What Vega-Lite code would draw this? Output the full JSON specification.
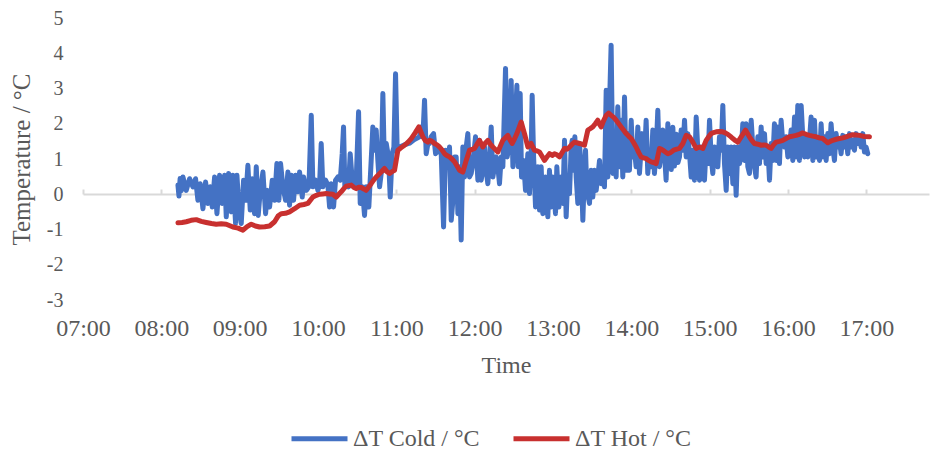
{
  "$schema": "https://vega.github.io/schema/vega-lite/v6.json",
  "width": 846,
  "height": 282,
  "autosize": {"type": "none"},
  "padding": {"left": 83, "top": 18, "right": 4, "bottom": 150},
  "background": "white",
  "config": {"view": {"stroke": null}, "font": "Liberation Serif", "axisY": {"labelOverlap": false}, "axis": {"labelOverlap": false}},
  "datasets": {
    "cold": [
      {"hour": 8.212, "dt": 0.26}, {"hour": 8.225, "dt": -0.05}, {"hour": 8.24, "dt": 0.45}, {"hour": 8.255, "dt": 0.1},
      {"hour": 8.276, "dt": 0.49}, {"hour": 8.318, "dt": 0.11}, {"hour": 8.361, "dt": 0.44}, {"hour": 8.403, "dt": 0.21},
      {"hour": 8.437, "dt": 0.44}, {"hour": 8.467, "dt": -0.17}, {"hour": 8.497, "dt": 0.3}, {"hour": 8.531, "dt": -0.41},
      {"hour": 8.565, "dt": 0.35}, {"hour": 8.595, "dt": -0.26}, {"hour": 8.625, "dt": 0.21}, {"hour": 8.65, "dt": -0.36},
      {"hour": 8.68, "dt": 0.49}, {"hour": 8.71, "dt": -0.55}, {"hour": 8.744, "dt": 0.54}, {"hour": 8.778, "dt": -0.26},
      {"hour": 8.808, "dt": 0.54}, {"hour": 8.829, "dt": -0.64}, {"hour": 8.859, "dt": 0.59}, {"hour": 8.893, "dt": -0.5},
      {"hour": 8.914, "dt": 0.54}, {"hour": 8.948, "dt": -0.83}, {"hour": 8.965, "dt": 0.54}, {"hour": 8.99, "dt": -0.36},
      {"hour": 9.02, "dt": -0.83}, {"hour": 9.05, "dt": 0.4}, {"hour": 9.076, "dt": -0.17}, {"hour": 9.105, "dt": 0.82},
      {"hour": 9.135, "dt": -0.45}, {"hour": 9.161, "dt": 0.44}, {"hour": 9.19, "dt": -0.55}, {"hour": 9.212, "dt": 0.78},
      {"hour": 9.237, "dt": -0.6}, {"hour": 9.263, "dt": 0.11}, {"hour": 9.297, "dt": 0.63}, {"hour": 9.331, "dt": -0.55},
      {"hour": 9.356, "dt": 0.11}, {"hour": 9.382, "dt": -0.36}, {"hour": 9.416, "dt": 0.4}, {"hour": 9.446, "dt": -0.17},
      {"hour": 9.475, "dt": 0.87}, {"hour": 9.501, "dt": -0.17}, {"hour": 9.522, "dt": 0.87}, {"hour": 9.552, "dt": 0.21},
      {"hour": 9.586, "dt": -0.17}, {"hour": 9.616, "dt": 0.63}, {"hour": 9.637, "dt": -0.31}, {"hour": 9.658, "dt": 0.54},
      {"hour": 9.688, "dt": -0.17}, {"hour": 9.714, "dt": 0.54}, {"hour": 9.743, "dt": 0.07}, {"hour": 9.765, "dt": 0.63},
      {"hour": 9.799, "dt": -0.08}, {"hour": 9.816, "dt": 0.49}, {"hour": 9.85, "dt": 0.11}, {"hour": 9.884, "dt": 0.21},
      {"hour": 9.914, "dt": 2.24}, {"hour": 9.935, "dt": 0.21}, {"hour": 9.969, "dt": 0.4}, {"hour": 9.999, "dt": 0.11},
      {"hour": 10.02, "dt": 0.26}, {"hour": 10.041, "dt": 1.44}, {"hour": 10.062, "dt": 0.21}, {"hour": 10.096, "dt": 0.4},
      {"hour": 10.126, "dt": 0.26}, {"hour": 10.148, "dt": -0.36}, {"hour": 10.169, "dt": 0.3}, {"hour": 10.199, "dt": -0.36},
      {"hour": 10.224, "dt": 0.4}, {"hour": 10.254, "dt": 0.49}, {"hour": 10.284, "dt": 0.4}, {"hour": 10.309, "dt": 1.15},
      {"hour": 10.326, "dt": 1.91}, {"hour": 10.343, "dt": 0.21}, {"hour": 10.36, "dt": 0.49}, {"hour": 10.39, "dt": 0.21},
      {"hour": 10.411, "dt": 1.15}, {"hour": 10.437, "dt": 0.4}, {"hour": 10.467, "dt": 0.21}, {"hour": 10.488, "dt": 0.4},
      {"hour": 10.518, "dt": 2.34}, {"hour": 10.539, "dt": -0.26}, {"hour": 10.565, "dt": 0.21}, {"hour": 10.594, "dt": -0.6},
      {"hour": 10.615, "dt": 0.21}, {"hour": 10.649, "dt": -0.36}, {"hour": 10.679, "dt": 0.96}, {"hour": 10.7, "dt": 1.91},
      {"hour": 10.722, "dt": 1.25}, {"hour": 10.743, "dt": 1.82}, {"hour": 10.764, "dt": 0.96}, {"hour": 10.786, "dt": 0.21},
      {"hour": 10.807, "dt": 0.59}, {"hour": 10.828, "dt": 2.86}, {"hour": 10.849, "dt": 0.68}, {"hour": 10.871, "dt": 1.44},
      {"hour": 10.9, "dt": 1.06}, {"hour": 10.922, "dt": -0.08}, {"hour": 10.947, "dt": 1.15}, {"hour": 10.969, "dt": 1.34},
      {"hour": 10.99, "dt": 3.42}, {"hour": 11.011, "dt": 1.25}, {"hour": 11.041, "dt": 1.34}, {"hour": 11.1, "dt": 1.4},
      {"hour": 11.169, "dt": 1.45}, {"hour": 11.23, "dt": 1.55}, {"hour": 11.296, "dt": 1.63}, {"hour": 11.317, "dt": 1.91},
      {"hour": 11.339, "dt": 1.63}, {"hour": 11.36, "dt": 2.67}, {"hour": 11.381, "dt": 1.15}, {"hour": 11.403, "dt": 1.44},
      {"hour": 11.424, "dt": 1.44}, {"hour": 11.445, "dt": 1.63}, {"hour": 11.475, "dt": 1.72}, {"hour": 11.501, "dt": 1.15},
      {"hour": 11.53, "dt": 1.25}, {"hour": 11.573, "dt": 1.15}, {"hour": 11.603, "dt": -0.93}, {"hour": 11.628, "dt": 1.25},
      {"hour": 11.658, "dt": 0.87}, {"hour": 11.679, "dt": 1.34}, {"hour": 11.701, "dt": -0.74}, {"hour": 11.722, "dt": -0.17},
      {"hour": 11.743, "dt": 1.06}, {"hour": 11.764, "dt": 1.06}, {"hour": 11.786, "dt": -0.55}, {"hour": 11.807, "dt": 0.78},
      {"hour": 11.828, "dt": -1.3}, {"hour": 11.849, "dt": 1.34}, {"hour": 11.871, "dt": 0.49}, {"hour": 11.892, "dt": 1.34},
      {"hour": 11.913, "dt": 1.72}, {"hour": 11.934, "dt": 0.49}, {"hour": 11.956, "dt": 0.59}, {"hour": 11.977, "dt": 0.87},
      {"hour": 12.011, "dt": 1.63}, {"hour": 12.041, "dt": 0.4}, {"hour": 12.062, "dt": 1.53}, {"hour": 12.083, "dt": 0.4},
      {"hour": 12.105, "dt": 0.68}, {"hour": 12.126, "dt": 1.34}, {"hour": 12.147, "dt": 0.68}, {"hour": 12.168, "dt": 0.3},
      {"hour": 12.19, "dt": 0.96}, {"hour": 12.211, "dt": 1.91}, {"hour": 12.232, "dt": 0.49}, {"hour": 12.254, "dt": 0.78},
      {"hour": 12.275, "dt": 1.06}, {"hour": 12.296, "dt": 0.78}, {"hour": 12.317, "dt": 0.3}, {"hour": 12.339, "dt": 1.06},
      {"hour": 12.36, "dt": 0.78}, {"hour": 12.394, "dt": 3.57}, {"hour": 12.415, "dt": 1.06}, {"hour": 12.445, "dt": 1.44},
      {"hour": 12.466, "dt": 3.23}, {"hour": 12.488, "dt": 0.78}, {"hour": 12.509, "dt": 1.53}, {"hour": 12.539, "dt": 3.09},
      {"hour": 12.556, "dt": 0.78}, {"hour": 12.581, "dt": 2.86}, {"hour": 12.598, "dt": 0.49}, {"hour": 12.624, "dt": 0.96},
      {"hour": 12.649, "dt": 0.11}, {"hour": 12.679, "dt": 1.15}, {"hour": 12.7, "dt": 0.02}, {"hour": 12.721, "dt": 1.15},
      {"hour": 12.734, "dt": 2.81}, {"hour": 12.751, "dt": 1.15}, {"hour": 12.777, "dt": -0.36}, {"hour": 12.807, "dt": 0.78},
      {"hour": 12.828, "dt": -0.45}, {"hour": 12.849, "dt": 0.78}, {"hour": 12.87, "dt": -0.55}, {"hour": 12.904, "dt": 0.49},
      {"hour": 12.934, "dt": -0.64}, {"hour": 12.955, "dt": 0.68}, {"hour": 12.977, "dt": -0.36}, {"hour": 12.998, "dt": 0.49},
      {"hour": 13.032, "dt": -0.55}, {"hour": 13.049, "dt": 0.78}, {"hour": 13.075, "dt": -0.36}, {"hour": 13.104, "dt": 0.49},
      {"hour": 13.126, "dt": -0.26}, {"hour": 13.147, "dt": 1.53}, {"hour": 13.168, "dt": -0.64}, {"hour": 13.189, "dt": 0.49},
      {"hour": 13.211, "dt": 0.02}, {"hour": 13.232, "dt": 1.34}, {"hour": 13.245, "dt": 1.53}, {"hour": 13.262, "dt": 0.68},
      {"hour": 13.279, "dt": 1.63}, {"hour": 13.296, "dt": 0.49}, {"hour": 13.317, "dt": -0.26}, {"hour": 13.338, "dt": 1.44},
      {"hour": 13.36, "dt": 0.68}, {"hour": 13.381, "dt": -0.74}, {"hour": 13.402, "dt": 0.68}, {"hour": 13.415, "dt": 1.25},
      {"hour": 13.432, "dt": 0.11}, {"hour": 13.466, "dt": -0.26}, {"hour": 13.487, "dt": 0.68}, {"hour": 13.508, "dt": -0.08},
      {"hour": 13.53, "dt": 0.68}, {"hour": 13.551, "dt": 0.11}, {"hour": 13.572, "dt": 0.49}, {"hour": 13.594, "dt": 0.96},
      {"hour": 13.615, "dt": 0.3}, {"hour": 13.636, "dt": 0.68}, {"hour": 13.657, "dt": 0.21}, {"hour": 13.679, "dt": 2.95},
      {"hour": 13.7, "dt": 0.49}, {"hour": 13.721, "dt": 2.48}, {"hour": 13.742, "dt": 4.23}, {"hour": 13.764, "dt": 0.59},
      {"hour": 13.785, "dt": 1.72}, {"hour": 13.806, "dt": 0.49}, {"hour": 13.827, "dt": 2.48}, {"hour": 13.849, "dt": 0.78},
      {"hour": 13.87, "dt": 2.1}, {"hour": 13.891, "dt": 0.49}, {"hour": 13.913, "dt": 2.76}, {"hour": 13.934, "dt": 0.68},
      {"hour": 13.955, "dt": 1.72}, {"hour": 13.976, "dt": 0.68}, {"hour": 13.998, "dt": 2.1}, {"hour": 14.019, "dt": 1.06},
      {"hour": 14.04, "dt": 1.25}, {"hour": 14.061, "dt": 0.78}, {"hour": 14.083, "dt": 1.91}, {"hour": 14.104, "dt": 0.59},
      {"hour": 14.138, "dt": 1.72}, {"hour": 14.168, "dt": 1.06}, {"hour": 14.189, "dt": 2.1}, {"hour": 14.21, "dt": 0.59},
      {"hour": 14.232, "dt": 1.25}, {"hour": 14.253, "dt": 0.78}, {"hour": 14.274, "dt": 1.82}, {"hour": 14.295, "dt": 0.59},
      {"hour": 14.317, "dt": 1.25}, {"hour": 14.338, "dt": 2.38}, {"hour": 14.359, "dt": 0.78}, {"hour": 14.381, "dt": 1.15},
      {"hour": 14.402, "dt": 1.82}, {"hour": 14.423, "dt": 1.15}, {"hour": 14.444, "dt": 0.4}, {"hour": 14.466, "dt": 2.0},
      {"hour": 14.487, "dt": 1.25}, {"hour": 14.51, "dt": 0.7}, {"hour": 14.53, "dt": 1.9}, {"hour": 14.55, "dt": 0.8},
      {"hour": 14.575, "dt": 1.7}, {"hour": 14.595, "dt": 0.9}, {"hour": 14.615, "dt": 1.06}, {"hour": 14.636, "dt": 1.82},
      {"hour": 14.658, "dt": 1.25}, {"hour": 14.679, "dt": 2.1}, {"hour": 14.7, "dt": 1.06}, {"hour": 14.721, "dt": 1.72},
      {"hour": 14.743, "dt": 1.15}, {"hour": 14.764, "dt": 0.49}, {"hour": 14.785, "dt": 1.25}, {"hour": 14.806, "dt": 0.4},
      {"hour": 14.828, "dt": 2.19}, {"hour": 14.849, "dt": 1.25}, {"hour": 14.87, "dt": 0.4}, {"hour": 14.891, "dt": 1.34},
      {"hour": 14.913, "dt": 0.49}, {"hour": 14.934, "dt": 0.4}, {"hour": 14.955, "dt": 1.34}, {"hour": 14.977, "dt": 0.87},
      {"hour": 14.998, "dt": 2.1}, {"hour": 15.019, "dt": 1.06}, {"hour": 15.04, "dt": 0.59}, {"hour": 15.062, "dt": 1.34},
      {"hour": 15.083, "dt": 0.96}, {"hour": 15.104, "dt": 0.78}, {"hour": 15.125, "dt": 1.63}, {"hour": 15.147, "dt": 1.25},
      {"hour": 15.168, "dt": 2.52}, {"hour": 15.189, "dt": 0.87}, {"hour": 15.211, "dt": 0.11}, {"hour": 15.232, "dt": 1.34},
      {"hour": 15.253, "dt": 0.59}, {"hour": 15.274, "dt": 1.34}, {"hour": 15.296, "dt": 0.3}, {"hour": 15.317, "dt": 1.34},
      {"hour": 15.338, "dt": -0.03}, {"hour": 15.359, "dt": 1.34}, {"hour": 15.381, "dt": 0.87}, {"hour": 15.402, "dt": 1.15},
      {"hour": 15.423, "dt": 2.0}, {"hour": 15.445, "dt": 0.96}, {"hour": 15.466, "dt": 2.0}, {"hour": 15.487, "dt": 0.78},
      {"hour": 15.508, "dt": 0.59}, {"hour": 15.53, "dt": 2.1}, {"hour": 15.551, "dt": 1.34}, {"hour": 15.572, "dt": 0.78},
      {"hour": 15.593, "dt": 0.49}, {"hour": 15.615, "dt": 1.63}, {"hour": 15.636, "dt": 0.87}, {"hour": 15.657, "dt": 1.91},
      {"hour": 15.678, "dt": 1.06}, {"hour": 15.7, "dt": 1.72}, {"hour": 15.721, "dt": 0.87}, {"hour": 15.742, "dt": 1.34},
      {"hour": 15.764, "dt": 0.4}, {"hour": 15.785, "dt": 1.44}, {"hour": 15.806, "dt": 0.96}, {"hour": 15.827, "dt": 2.0},
      {"hour": 15.849, "dt": 0.96}, {"hour": 15.87, "dt": 1.91}, {"hour": 15.891, "dt": 0.87}, {"hour": 15.912, "dt": 2.1},
      {"hour": 15.934, "dt": 1.44}, {"hour": 15.955, "dt": 1.34}, {"hour": 15.976, "dt": 1.63}, {"hour": 15.998, "dt": 1.06},
      {"hour": 16.019, "dt": 1.34}, {"hour": 16.04, "dt": 1.82}, {"hour": 16.061, "dt": 0.96}, {"hour": 16.083, "dt": 2.19},
      {"hour": 16.104, "dt": 1.06}, {"hour": 16.125, "dt": 2.52}, {"hour": 16.146, "dt": 0.96}, {"hour": 16.168, "dt": 2.52},
      {"hour": 16.189, "dt": 1.63}, {"hour": 16.21, "dt": 1.06}, {"hour": 16.231, "dt": 1.63}, {"hour": 16.253, "dt": 1.06},
      {"hour": 16.274, "dt": 1.53}, {"hour": 16.295, "dt": 2.19}, {"hour": 16.317, "dt": 0.96}, {"hour": 16.338, "dt": 2.1},
      {"hour": 16.359, "dt": 1.06}, {"hour": 16.38, "dt": 1.53}, {"hour": 16.402, "dt": 0.96}, {"hour": 16.423, "dt": 2.0},
      {"hour": 16.444, "dt": 1.06}, {"hour": 16.465, "dt": 1.63}, {"hour": 16.487, "dt": 0.96}, {"hour": 16.508, "dt": 1.72},
      {"hour": 16.529, "dt": 1.15}, {"hour": 16.55, "dt": 2.0}, {"hour": 16.572, "dt": 1.34}, {"hour": 16.593, "dt": 0.96},
      {"hour": 16.614, "dt": 1.72}, {"hour": 16.636, "dt": 1.34}, {"hour": 16.657, "dt": 1.53}, {"hour": 16.678, "dt": 1.15},
      {"hour": 16.699, "dt": 1.67}, {"hour": 16.721, "dt": 1.34}, {"hour": 16.742, "dt": 1.63}, {"hour": 16.763, "dt": 1.15},
      {"hour": 16.785, "dt": 1.72}, {"hour": 16.806, "dt": 1.34}, {"hour": 16.827, "dt": 1.53}, {"hour": 16.848, "dt": 1.25},
      {"hour": 16.87, "dt": 1.72}, {"hour": 16.891, "dt": 1.44}, {"hour": 16.912, "dt": 1.67}, {"hour": 16.933, "dt": 1.34},
      {"hour": 16.955, "dt": 1.72}, {"hour": 16.976, "dt": 1.2}, {"hour": 16.997, "dt": 1.34}, {"hour": 17.018, "dt": 1.15}
    ],
    "hot": [
      {"hour": 8.212, "dt": -0.81}, {"hour": 8.265, "dt": -0.8}, {"hour": 8.318, "dt": -0.78}, {"hour": 8.38, "dt": -0.74},
      {"hour": 8.446, "dt": -0.72}, {"hour": 8.51, "dt": -0.77}, {"hour": 8.574, "dt": -0.8}, {"hour": 8.64, "dt": -0.83},
      {"hour": 8.701, "dt": -0.85}, {"hour": 8.765, "dt": -0.84}, {"hour": 8.829, "dt": -0.85}, {"hour": 8.914, "dt": -0.93},
      {"hour": 8.98, "dt": -0.96}, {"hour": 9.042, "dt": -1.02}, {"hour": 9.095, "dt": -0.92}, {"hour": 9.148, "dt": -0.85},
      {"hour": 9.2, "dt": -0.9}, {"hour": 9.254, "dt": -0.93}, {"hour": 9.32, "dt": -0.92}, {"hour": 9.382, "dt": -0.9},
      {"hour": 9.446, "dt": -0.78}, {"hour": 9.49, "dt": -0.62}, {"hour": 9.531, "dt": -0.55}, {"hour": 9.585, "dt": -0.54},
      {"hour": 9.637, "dt": -0.5}, {"hour": 9.701, "dt": -0.41}, {"hour": 9.765, "dt": -0.31}, {"hour": 9.82, "dt": -0.29},
      {"hour": 9.871, "dt": -0.26}, {"hour": 9.935, "dt": -0.08}, {"hour": 9.98, "dt": -0.03}, {"hour": 10.02, "dt": 0.0},
      {"hour": 10.06, "dt": 0.01}, {"hour": 10.105, "dt": 0.02}, {"hour": 10.15, "dt": 0.01}, {"hour": 10.19, "dt": 0.0},
      {"hour": 10.233, "dt": -0.08}, {"hour": 10.265, "dt": 0.0}, {"hour": 10.296, "dt": 0.07}, {"hour": 10.33, "dt": 0.16},
      {"hour": 10.36, "dt": 0.23}, {"hour": 10.424, "dt": 0.26}, {"hour": 10.455, "dt": 0.2}, {"hour": 10.488, "dt": 0.16},
      {"hour": 10.52, "dt": 0.2}, {"hour": 10.552, "dt": 0.19}, {"hour": 10.585, "dt": 0.15}, {"hour": 10.615, "dt": 0.11},
      {"hour": 10.645, "dt": 0.2}, {"hour": 10.679, "dt": 0.3}, {"hour": 10.71, "dt": 0.4}, {"hour": 10.743, "dt": 0.49},
      {"hour": 10.775, "dt": 0.56}, {"hour": 10.807, "dt": 0.63}, {"hour": 10.849, "dt": 0.73}, {"hour": 10.88, "dt": 0.64},
      {"hour": 10.913, "dt": 0.59}, {"hour": 10.945, "dt": 0.64}, {"hour": 10.977, "dt": 0.68}, {"hour": 11.0, "dt": 0.98},
      {"hour": 11.02, "dt": 1.25}, {"hour": 11.06, "dt": 1.32}, {"hour": 11.105, "dt": 1.39}, {"hour": 11.15, "dt": 1.48},
      {"hour": 11.19, "dt": 1.58}, {"hour": 11.24, "dt": 1.74}, {"hour": 11.288, "dt": 1.91}, {"hour": 11.315, "dt": 1.76},
      {"hour": 11.339, "dt": 1.63}, {"hour": 11.37, "dt": 1.52}, {"hour": 11.403, "dt": 1.48}, {"hour": 11.424, "dt": 1.53},
      {"hour": 11.455, "dt": 1.5}, {"hour": 11.488, "dt": 1.44}, {"hour": 11.52, "dt": 1.4}, {"hour": 11.552, "dt": 1.34},
      {"hour": 11.585, "dt": 1.25}, {"hour": 11.615, "dt": 1.15}, {"hour": 11.645, "dt": 1.1}, {"hour": 11.679, "dt": 1.06},
      {"hour": 11.71, "dt": 1.0}, {"hour": 11.743, "dt": 0.92}, {"hour": 11.775, "dt": 0.8}, {"hour": 11.807, "dt": 0.68},
      {"hour": 11.849, "dt": 0.63}, {"hour": 11.892, "dt": 0.96}, {"hour": 11.934, "dt": 1.25}, {"hour": 11.965, "dt": 1.27},
      {"hour": 11.998, "dt": 1.3}, {"hour": 12.03, "dt": 1.42}, {"hour": 12.062, "dt": 1.53}, {"hour": 12.105, "dt": 1.34},
      {"hour": 12.135, "dt": 1.45}, {"hour": 12.168, "dt": 1.53}, {"hour": 12.2, "dt": 1.42}, {"hour": 12.232, "dt": 1.34},
      {"hour": 12.265, "dt": 1.27}, {"hour": 12.296, "dt": 1.2}, {"hour": 12.33, "dt": 1.38}, {"hour": 12.36, "dt": 1.53},
      {"hour": 12.39, "dt": 1.6}, {"hour": 12.424, "dt": 1.67}, {"hour": 12.45, "dt": 1.55}, {"hour": 12.479, "dt": 1.44},
      {"hour": 12.51, "dt": 1.58}, {"hour": 12.539, "dt": 1.72}, {"hour": 12.565, "dt": 1.88}, {"hour": 12.594, "dt": 2.05},
      {"hour": 12.615, "dt": 1.88}, {"hour": 12.636, "dt": 1.72}, {"hour": 12.679, "dt": 1.34}, {"hour": 12.7, "dt": 1.4},
      {"hour": 12.721, "dt": 1.44}, {"hour": 12.742, "dt": 1.34}, {"hour": 12.764, "dt": 1.25}, {"hour": 12.795, "dt": 1.23},
      {"hour": 12.828, "dt": 1.2}, {"hour": 12.86, "dt": 1.08}, {"hour": 12.892, "dt": 0.96}, {"hour": 12.92, "dt": 1.05},
      {"hour": 12.955, "dt": 1.15}, {"hour": 12.99, "dt": 1.1}, {"hour": 13.019, "dt": 1.15}, {"hour": 13.05, "dt": 1.12},
      {"hour": 13.083, "dt": 1.06}, {"hour": 13.115, "dt": 1.18}, {"hour": 13.147, "dt": 1.3}, {"hour": 13.18, "dt": 1.28},
      {"hour": 13.211, "dt": 1.34}, {"hour": 13.245, "dt": 1.42}, {"hour": 13.275, "dt": 1.48}, {"hour": 13.305, "dt": 1.46},
      {"hour": 13.338, "dt": 1.44}, {"hour": 13.37, "dt": 1.42}, {"hour": 13.402, "dt": 1.39}, {"hour": 13.425, "dt": 1.62},
      {"hour": 13.445, "dt": 1.82}, {"hour": 13.475, "dt": 1.86}, {"hour": 13.508, "dt": 1.91}, {"hour": 13.54, "dt": 2.0},
      {"hour": 13.572, "dt": 2.1}, {"hour": 13.595, "dt": 1.98}, {"hour": 13.615, "dt": 1.91}, {"hour": 13.645, "dt": 2.08},
      {"hour": 13.679, "dt": 2.24}, {"hour": 13.71, "dt": 2.3}, {"hour": 13.742, "dt": 2.24}, {"hour": 13.775, "dt": 2.18},
      {"hour": 13.806, "dt": 2.1}, {"hour": 13.84, "dt": 2.0}, {"hour": 13.87, "dt": 1.91}, {"hour": 13.9, "dt": 1.82},
      {"hour": 13.934, "dt": 1.72}, {"hour": 13.965, "dt": 1.65}, {"hour": 13.998, "dt": 1.58}, {"hour": 14.03, "dt": 1.46},
      {"hour": 14.061, "dt": 1.34}, {"hour": 14.095, "dt": 1.18}, {"hour": 14.125, "dt": 1.06}, {"hour": 14.155, "dt": 1.03},
      {"hour": 14.189, "dt": 1.01}, {"hour": 14.22, "dt": 0.96}, {"hour": 14.253, "dt": 0.92}, {"hour": 14.285, "dt": 0.9},
      {"hour": 14.317, "dt": 0.87}, {"hour": 14.34, "dt": 1.1}, {"hour": 14.359, "dt": 1.3}, {"hour": 14.38, "dt": 1.28},
      {"hour": 14.402, "dt": 1.25}, {"hour": 14.435, "dt": 1.2}, {"hour": 14.466, "dt": 1.15}, {"hour": 14.5, "dt": 1.18},
      {"hour": 14.54, "dt": 1.25}, {"hour": 14.58, "dt": 1.28}, {"hour": 14.615, "dt": 1.3}, {"hour": 14.658, "dt": 1.44},
      {"hour": 14.7, "dt": 1.67}, {"hour": 14.743, "dt": 1.63}, {"hour": 14.785, "dt": 1.48}, {"hour": 14.828, "dt": 1.3},
      {"hour": 14.87, "dt": 1.34}, {"hour": 14.913, "dt": 1.3}, {"hour": 14.955, "dt": 1.53}, {"hour": 14.99, "dt": 1.64},
      {"hour": 15.019, "dt": 1.72}, {"hour": 15.05, "dt": 1.75}, {"hour": 15.083, "dt": 1.77}, {"hour": 15.125, "dt": 1.78},
      {"hour": 15.168, "dt": 1.77}, {"hour": 15.2, "dt": 1.74}, {"hour": 15.232, "dt": 1.7}, {"hour": 15.265, "dt": 1.64},
      {"hour": 15.296, "dt": 1.58}, {"hour": 15.33, "dt": 1.52}, {"hour": 15.359, "dt": 1.48}, {"hour": 15.402, "dt": 1.63},
      {"hour": 15.457, "dt": 1.82}, {"hour": 15.508, "dt": 1.63}, {"hour": 15.54, "dt": 1.52}, {"hour": 15.572, "dt": 1.44},
      {"hour": 15.615, "dt": 1.42}, {"hour": 15.657, "dt": 1.39}, {"hour": 15.69, "dt": 1.4}, {"hour": 15.721, "dt": 1.39},
      {"hour": 15.755, "dt": 1.34}, {"hour": 15.785, "dt": 1.3}, {"hour": 15.815, "dt": 1.4}, {"hour": 15.849, "dt": 1.48},
      {"hour": 15.89, "dt": 1.5}, {"hour": 15.934, "dt": 1.53}, {"hour": 15.975, "dt": 1.58}, {"hour": 16.019, "dt": 1.63},
      {"hour": 16.06, "dt": 1.65}, {"hour": 16.104, "dt": 1.67}, {"hour": 16.145, "dt": 1.7}, {"hour": 16.189, "dt": 1.74},
      {"hour": 16.23, "dt": 1.7}, {"hour": 16.274, "dt": 1.67}, {"hour": 16.315, "dt": 1.65}, {"hour": 16.359, "dt": 1.63},
      {"hour": 16.4, "dt": 1.6}, {"hour": 16.444, "dt": 1.58}, {"hour": 16.475, "dt": 1.52}, {"hour": 16.508, "dt": 1.46},
      {"hour": 16.54, "dt": 1.5}, {"hour": 16.572, "dt": 1.53}, {"hour": 16.615, "dt": 1.56}, {"hour": 16.657, "dt": 1.58},
      {"hour": 16.7, "dt": 1.6}, {"hour": 16.742, "dt": 1.63}, {"hour": 16.785, "dt": 1.66}, {"hour": 16.827, "dt": 1.69},
      {"hour": 16.87, "dt": 1.68}, {"hour": 16.912, "dt": 1.67}, {"hour": 16.976, "dt": 1.64}, {"hour": 17.04, "dt": 1.63}
    ]
  },
  "layer": [
    {
      "data": {"name": "cold"},
      "mark": {"type": "line", "strokeWidth": 5, "strokeCap": "round", "strokeJoin": "round"},
      "encoding": {
        "x": {
          "field": "hour", "type": "quantitative",
          "scale": {"domain": [7, 17.8], "nice": false, "zero": false},
          "axis": {
            "orient": "bottom", "values": [7, 8, 9, 10, 11, 12, 13, 14, 15, 16, 17],
            "labelExpr": "(datum.value < 10 ? '0' : '') + datum.value + ':00'",
            "domain": false, "ticks": false, "grid": false,
            "labelFlush": false, "labelOverlap": false,
            "labelFont": "Liberation Serif", "labelFontSize": 24, "labelColor": "#595959", "labelPadding": 16,
            "title": "Time", "titleFont": "Liberation Serif", "titleFontSize": 24, "titleFontWeight": "normal",
            "titleColor": "#595959", "titlePadding": 13
          }
        },
        "y": {
          "field": "dt", "type": "quantitative",
          "scale": {"domain": [-3, 5], "nice": false},
          "axis": {
            "values": [-3, -2, -1, 0, 1, 2, 3, 4, 5],
            "labelExpr": "'' + datum.value",
            "labelOverlap": false, "labelFlush": false,
            "domain": false, "ticks": false, "grid": false,
            "labelFont": "Liberation Serif", "labelFontSize": 20, "labelColor": "#595959", "labelPadding": 20,
            "title": "Temperature / °C", "titleFont": "Liberation Serif", "titleFontSize": 25, "titleFontWeight": "normal",
            "titleColor": "#595959", "titlePadding": 12
          }
        },
        "color": {
          "datum": "ΔT Cold / °C", "type": "nominal",
          "scale": {"domain": ["ΔT Cold / °C", "ΔT Hot / °C"], "range": ["#4472C4", "#C8302F"]},
          "legend": {
            "orient": "none", "legendX": 206, "legendY": 390, "direction": "horizontal", "columns": 2,
            "title": null, "symbolType": "stroke", "symbolSize": 3136, "symbolStrokeWidth": 5,
            "labelFont": "Liberation Serif", "labelFontSize": 24, "labelColor": "#595959",
            "labelOffset": 3, "columnPadding": 22, "labelLimit": 300
          }
        }
      }
    },
    {
      "data": {"name": "hot"},
      "mark": {"type": "line", "strokeWidth": 5, "strokeCap": "round", "strokeJoin": "round"},
      "encoding": {
        "x": {
          "field": "hour", "type": "quantitative",
          "axis": {
            "orient": "top", "offset": -176, "values": [7, 8, 9, 10, 11, 12, 13, 14, 15, 16, 17],
            "labels": false, "title": null, "grid": false,
            "domain": true, "domainColor": "#D9D9D9", "domainWidth": 2,
            "ticks": true, "tickColor": "#D9D9D9", "tickWidth": 2, "tickSize": 5
          }
        },
        "y": {
          "field": "dt", "type": "quantitative",
          "axis": {
            "values": [-3, -2, -1, 0, 1, 2, 3, 4, 5],
            "labelExpr": "'' + datum.value",
            "labelOverlap": false, "labelFlush": false,
            "domain": false, "ticks": false, "grid": false,
            "labelFont": "Liberation Serif", "labelFontSize": 20, "labelColor": "#595959", "labelPadding": 20,
            "title": "Temperature / °C", "titleFont": "Liberation Serif", "titleFontSize": 25, "titleFontWeight": "normal",
            "titleColor": "#595959", "titlePadding": 12
          }
        },
        "color": {"datum": "ΔT Hot / °C", "type": "nominal"}
      }
    }
  ],
  "resolve": {"axis": {"x": "independent"}}
}
